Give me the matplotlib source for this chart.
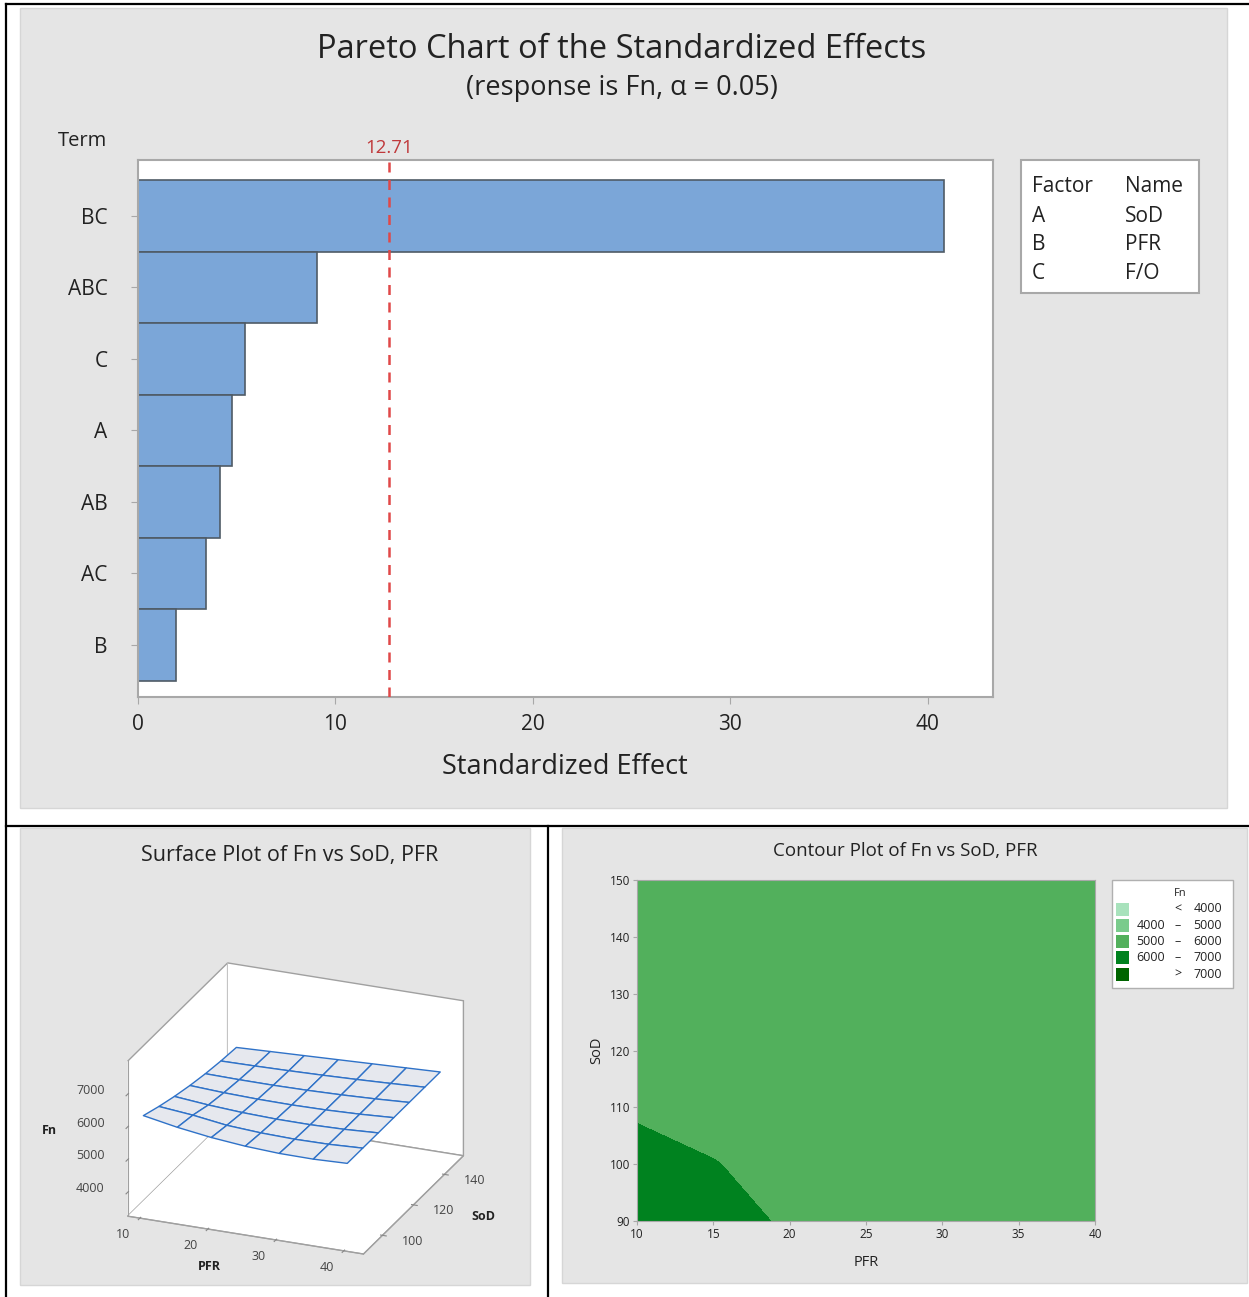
import numpy as np
import matplotlib
matplotlib.use('Agg')
import matplotlib.pyplot as plt
from matplotlib.patches import Rectangle

plt.rcParams['font.family'] = ['Open Sans', 'DejaVu Sans']

W, H = 1249, 1297

# Pareto chart
terms = ['BC', 'ABC', 'C', 'A', 'AB', 'AC', 'B']
effects = [40.8, 9.06, 5.42, 4.76, 4.15, 3.44, 1.92]
t_crit = 12.71
factors = ['A', 'B', 'C']
names = ['SoD', 'PFR', 'F/O']

pfr = [10, 15, 20, 25, 30, 35, 40]
sod = [90, 100, 110, 120, 130, 140, 150]
fn = [[6300, 6109, 5964, 5865, 5811, 5803, 5840],
      [6114, 6015, 5871, 5806, 5779, 5791, 5840],
      [5955, 5860, 5795, 5761, 5757, 5783, 5840],
      [5823, 5769, 5738, 5729, 5743, 5780, 5840],
      [5718, 5701, 5698, 5711, 5739, 5782, 5840],
      [5641, 5655, 5677, 5706, 5743, 5788, 5840],
      [5590, 5632, 5673, 5715, 5757, 5798, 5840]]
pfr_ticks = [10, 20, 30, 40]
sod_ticks = [100, 120, 140]
fn_ticks = [4000, 5000, 6000, 7000]

levels = [0, 4000, 5000, 6000, 7000, 99999]
level_colors = ['#A8E2BC', '#7ACB8C', '#52B05C', '#00821F', '#006400']
leg_lo = ['', '4000', '5000', '6000', '']
leg_sym = ['<', '–', '–', '–', '>']
leg_hi = ['4000', '5000', '6000', '7000', '7000']


def box(x0, y0, x1, y1):
    return [x0 / W, 1 - y1 / H, (x1 - x0) / W, (y1 - y0) / H]


fig = plt.figure(figsize=(W / 100, H / 100), dpi=100)

# background panels + table lines, in pixel coords
bg = fig.add_axes([0, 0, 1, 1])
bg.set_xlim(0, W)
bg.set_ylim(H, 0)
bg.axis('off')
grey = '#E5E5E5'
for x0, y0, x1, y1 in [(20, 8, 1227, 808), (20, 828, 530, 1285), (562, 828, 1247, 1283)]:
    bg.add_patch(Rectangle((x0, y0), x1 - x0, y1 - y0, fc=grey, ec='#D6D6D6', lw=1))
bg.plot([6, 1249], [4, 4], 'k', lw=1.6)
bg.plot([6, 6], [4, 1297], 'k', lw=1.6)
bg.plot([6, 1249], [826, 826], 'k', lw=1.6)
bg.plot([548, 548], [826, 1297], 'k', lw=1.6)

dark = '#222222'
spine_c = '#A8A8A8'

# ---------------- Pareto ----------------
fig.text(622 / W, 1 - 50 / H, 'Pareto Chart of the Standardized Effects',
         ha='center', va='center', fontsize=23.5, color=dark)
fig.text(622 / W, 1 - 88 / H, '(response is Fn, α = 0.05)',
         ha='center', va='center', fontsize=19.5, color=dark)
fig.text(82 / W, 1 - 141 / H, 'Term', ha='center', va='center', fontsize=14.5, color=dark)

ax = fig.add_axes(box(138, 160, 993, 697))
y = np.arange(len(terms))
ax.barh(y, effects, height=1.0, color='#7BA6D8', edgecolor='#4F5B66', lw=1.2, zorder=2)
ax.axvline(t_crit, color='#E04848', ls=(0, (4, 3)), lw=1.8, zorder=3)
ax.set_xlim(0, 43.3)
ax.set_ylim(6.73, -0.78)
ax.set_yticks(y, terms)
ax.set_xticks([0, 10, 20, 30, 40])
ax.tick_params(colors=spine_c, labelcolor=dark, labelsize=15, length=5)
ax.tick_params(axis='y', pad=17)
ax.tick_params(axis='x', pad=7)
for s in ax.spines.values():
    s.set_color(spine_c)
    s.set_linewidth(1.5)
ax.annotate('12.71', (t_crit, -0.78), xytext=(0, 2), textcoords='offset points',
            ha='center', va='bottom', color='#C0393B', fontsize=13.5)
fig.text(565 / W, 1 - 767 / H, 'Standardized Effect', ha='center', va='center',
         fontsize=19.5, color=dark)

# factor table
bg.add_patch(Rectangle((1021, 160), 178, 133, fc='white', ec='#A8A8A8', lw=1.5))
bg.text(1032, 187, 'Factor', va='center', fontsize=15, color=dark)
bg.text(1125, 187, 'Name', va='center', fontsize=15, color=dark)
for i, (f, n) in enumerate(zip(factors, names)):
    yy = 216 + i * 28.7
    bg.text(1032, yy, f, va='center', fontsize=15, color=dark)
    bg.text(1125, yy, n, va='center', fontsize=15, color=dark)

# ---------------- Surface ----------------
fig.text(290 / W, 1 - 855 / H, 'Surface Plot of Fn vs SoD, PFR', ha='center', va='center',
         fontsize=15.5, color=dark)
ax3 = fig.add_axes(box(20, 909, 560, 1319), projection='3d', proj_type='ortho')
ax3.set_facecolor((0, 0, 0, 0))
P, S = np.meshgrid(pfr, sod)
Z = np.array(fn, dtype=float)
ax3.plot_surface(P, S, Z, color='#E6E8EE', edgecolor='#2F72C8', lw=1.0, shade=False)
x0, x1 = 8.2, 42.9
y0, y1 = 87.75, 152.25
z0, z1 = 3270, 8010
ax3.set_xlim(x0, x1)
ax3.set_ylim(y0, y1)
ax3.set_zlim(z0, z1)
ax3.set_xticks(pfr_ticks)
ax3.set_yticks(sod_ticks)
ax3.set_zticks(fn_ticks)
ax3.view_init(elev=23.4, azim=-68)
ax3.set_box_aspect((1.506, 1.58, 1.0), zoom=0.96)
ax3.grid(False)
for a in (ax3.xaxis, ax3.yaxis, ax3.zaxis):
    a.set_pane_color((1, 1, 1, 1))
    a.pane.set_edgecolor('#A0A0A0')
    a.line.set_color('#A0A0A0')
    a.set_tick_params(colors='#888888', labelleft=False, labelbottom=False)
    for t in a.get_ticklabels():
        t.set_visible(False)
    a.label.set_visible(False)
    a.offsetText.set_visible(False)
ax3.zaxis.set_ticks_position('lower')

# tick labels and axis titles just outside the box edges:
# project the 3D anchor points and place plain 2D texts there
fig.canvas.draw()
M = ax3.get_proj()


def text3(px, py, pz, s, **kw):
    v = M @ np.array([px, py, pz, 1.0])
    dx, dy = ax3.transData.transform((v[0] / v[3], v[1] / v[3]))
    fig.text(dx / fig.bbox.width, dy / fig.bbox.height, s, **kw)


tk = dict(fontsize=9, color='#444444', va='center')
for v in pfr_ticks:
    text3(v, y0 - 11, z0, str(v), ha='center', **tk)
for v in sod_ticks:
    text3(x1 + 4.4, v, z0 - 40, str(v), ha='center', **tk)
for v in fn_ticks:
    text3(x0 - 3.4, y0, v, str(v), ha='right', **tk)
lb = dict(fontsize=9, fontweight='bold', color=dark, ha='center', va='center')
text3(25, y0 - 21, z0, 'PFR', **lb)
text3(x1 + 10.3, 120, z0, 'SoD', **lb)
text3(x0 - 11.5, y0, 5500, 'Fn', **lb)

# ---------------- Contour ----------------
fig.text(905 / W, 1 - 851 / H, 'Contour Plot of Fn vs SoD, PFR', ha='center', va='center',
         fontsize=13.5, color=dark)
axc = fig.add_axes(box(637, 880, 1095, 1221))
axc.contourf(pfr, sod, fn, levels=levels, colors=level_colors)
axc.set_xlim(10, 40)
axc.set_ylim(90, 150)
axc.set_xticks([10, 15, 20, 25, 30, 35, 40])
axc.set_yticks([90, 100, 110, 120, 130, 140, 150])
axc.tick_params(colors=spine_c, labelcolor=dark, labelsize=8.5, length=3, pad=2)
for s in axc.spines.values():
    s.set_color(spine_c)
axc.set_xlabel('PFR', fontsize=10.5, color=dark, labelpad=10)
axc.set_ylabel('SoD', fontsize=10.5, color=dark, labelpad=4)

bg.add_patch(Rectangle((1112, 880), 121, 108, fc='white', ec='#B0B0B0', lw=1))
bg.text(1180, 893, 'Fn', ha='center', va='center', fontsize=8, color=dark)
for i in range(len(level_colors)):
    yy = 909 + i * 16.3
    bg.add_patch(Rectangle((1116, yy - 6.5), 13, 13, fc=level_colors[i], ec='none'))
    bg.text(1165, yy, leg_lo[i], ha='right', va='center', fontsize=9, color=dark)
    bg.text(1178, yy, leg_sym[i], ha='center', va='center', fontsize=9, color=dark)
    bg.text(1222, yy, leg_hi[i], ha='right', va='center', fontsize=9, color=dark)

fig.savefig('out.png', dpi=100)
